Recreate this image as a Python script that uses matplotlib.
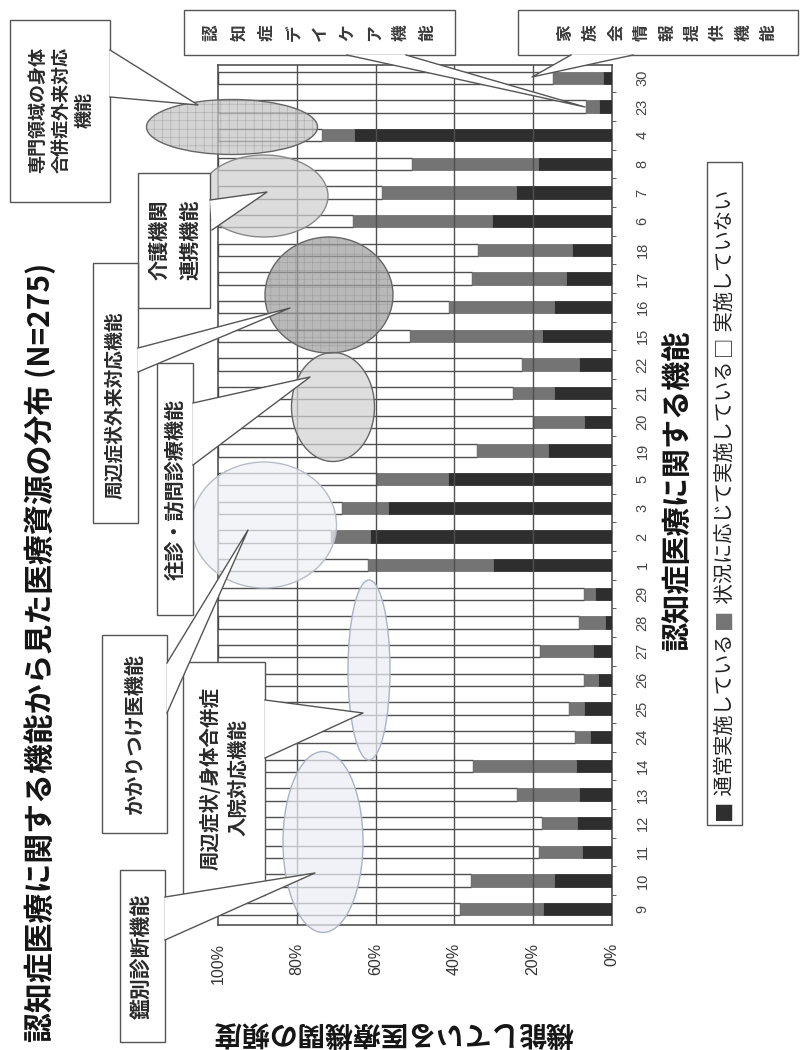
import matplotlib
matplotlib.use("Agg")
import matplotlib.pyplot as plt
from matplotlib.patches import Ellipse, Rectangle, Polygon

plt.rcParams['font.family'] = ['Noto Sans CJK JP', 'DejaVu Sans']

# ------------------------------------------------------------------
# data (bottom -> top in the picture)
# ------------------------------------------------------------------
categories = ['9', '10', '11', '12', '13', '14', '24', '25', '26', '27', '28', '29',
              '1', '2', '3', '5', '19', '20', '21', '22', '15', '16', '17', '18',
              '6', '7', '8', '4', '23', '30']
usual = [17.6, 14.7, 7.7, 8.8, 8.3, 9.1, 5.6, 7.1, 3.5, 4.9, 1.9, 4.3,
         30.1, 61.4, 56.8, 41.5, 16.2, 7.1, 14.6, 8.3, 17.7, 14.6, 11.8, 10.2,
         30.5, 24.4, 18.7, 65.5, 3.2, 2.2]
situational = [21.1, 21.2, 10.9, 8.9, 15.9, 26.1, 3.9, 3.8, 3.6, 13.4, 6.4, 2.8,
               31.9, 10.0, 11.8, 18.2, 18.1, 13.0, 10.4, 14.6, 33.5, 26.8, 23.7, 23.7,
               35.3, 34.0, 32.0, 8.0, 3.5, 12.7]
not_done = [100 - a - b for a, b in zip(usual, situational)]

pct_ticks = [0, 20, 40, 60, 80, 100]
pct_labels = ['0%', '20%', '40%', '60%', '80%', '100%']

title = '認知症医療に関する機能から見た医療資源の分布 (N=275)'
value_label = '機能している医療機関の頻度'
cat_label = '認知症医療に関する機能'
legend_items = ['通常実施している', '状況に応じて実施している', '実施していない']

c_dark = '#2e2e2e'
c_mid = '#747474'
c_line = '#505050'

W, H = 804, 1050
fig = plt.figure(figsize=(W / 100, H / 100), dpi=100)

# main axes (image pixel box: x 218..612, y 65..925)
ax = fig.add_axes([218 / W, 1 - 925 / H, (612 - 218) / W, (925 - 65) / H])
ypos = list(range(len(categories)))
bh = 0.43
ax.barh(ypos, usual, height=bh, color=c_dark, edgecolor=c_dark, lw=0.6, zorder=3)
ax.barh(ypos, situational, left=usual, height=bh, color=c_mid, edgecolor=c_mid, lw=0.6, zorder=3)
left3 = [a + b for a, b in zip(usual, situational)]
ax.barh(ypos, not_done, left=left3, height=bh, facecolor='white', edgecolor=c_line, lw=1.0, zorder=2)

ax.set_xlim(100, 0)
ax.set_ylim(-0.55, len(categories) - 0.55)
for v in [20, 40, 60, 80]:
    ax.axvline(v, color=c_line, lw=1.0, zorder=4)
for s in ax.spines.values():
    s.set_color('#444444')
    s.set_linewidth(1.1)

ax.set_xticks(pct_ticks)
ax.set_xticklabels(pct_labels, rotation=90, family='Liberation Sans', fontsize=11.5, color='#333333')
ax.tick_params(axis='x', length=0, pad=13)
ax.set_yticks(ypos)
ax.set_yticklabels(categories, rotation=90, family='Liberation Sans', fontsize=10.5,
                   color='#444444', va='center')
ax.set_yticks([p + 0.5 for p in ypos[:-1]], minor=True)
ax.tick_params(axis='y', which='major', length=0, left=False, labelleft=False,
               right=True, labelright=True, pad=17)
ax.tick_params(axis='y', which='minor', length=3, left=False, right=True, color='#444444')

# overlay in image pixel coordinates
ov = fig.add_axes([0, 0, 1, 1], zorder=5)
ov.set_xlim(0, W)
ov.set_ylim(H, 0)
ov.axis('off')
ov.patch.set_alpha(0)

# ellipses marking groups of functions
ellipses = [
    ((232, 127), 171, 55, '#c4c4c4', '#666666', '++'),
    ((264, 196), 128, 82, '#cfcfcf', '#888888', None),
    ((329, 295), 128, 116, '#9f9f9f', '#666666', '++'),
    ((333, 407), 83, 109, '#d2d2d2', '#666666', None),
    ((264, 525), 145, 126, '#eef0f4', '#b8bcc8', None),
    ((369, 670), 42, 180, '#ebeef4', '#aab2c8', None),
    ((323, 842), 80, 181, '#ebeef4', '#aab2c8', None),
]
plt.rcParams['hatch.linewidth'] = 0.4
for (cx, cy), w, h, fc, ec, hatch in ellipses:
    ov.add_patch(Ellipse((cx, cy), w, h, facecolor=fc, edgecolor='none', alpha=0.72, zorder=1))
    if hatch:
        ov.add_patch(Ellipse((cx, cy), w, h, facecolor='none', edgecolor='#8a8a8a',
                             hatch=hatch, lw=0, alpha=0.6, zorder=1))
    ov.add_patch(Ellipse((cx, cy), w, h, facecolor='none', edgecolor=ec, lw=1.0, zorder=1.5))


def callout(box, base, tip):
    x0, y0, x1, y1 = box
    ov.add_patch(Rectangle((x0, y0), x1 - x0, y1 - y0, facecolor='white',
                           edgecolor='#555555', lw=1.0, zorder=3))
    (bx1, by1), (bx2, by2) = base
    ov.add_patch(Polygon([(bx1, by1), tip, (bx2, by2)], closed=True, facecolor='white',
                         edgecolor='none', zorder=3.2))
    ov.plot([bx1, tip[0], bx2], [by1, tip[1], by2], color='#555555', lw=1.0, zorder=3.3)


def box_text(x, y, s, ls=1.3, size=14.5):
    ov.text(x, y, s, fontsize=size, color='#2a2a2a', weight='bold', zorder=4, ha='center',
            va='center', rotation=90, multialignment='center', linespacing=ls)


callout((10, 20, 110, 202), ((110, 50), (110, 97)), (198, 105))
box_text(61, 110, '専門領域の身体\n合併症外来対応\n機能', ls=1.3, size=13)

callout((138, 173, 210, 308), ((210, 200), (212, 230)), (267, 192))
box_text(174, 240, '介護機関\n連携機能', ls=1.6)

callout((93, 263, 138, 523), ((138, 348), (138, 372)), (290, 308))
box_text(115, 405, '周辺症状外来対応機能', size=13.5)

callout((157, 363, 193, 615), ((193, 403), (193, 465)), (310, 377))
box_text(175, 489, '往診・訪問診療機能')

callout((102, 635, 167, 833), ((167, 663), (167, 713)), (248, 530))
box_text(134, 734, 'かかりつけ医機能')

callout((183, 662, 265, 895), ((265, 700), (265, 758)), (363, 713))
box_text(224, 778, '周辺症状/身体合併症\n入院対応機能', ls=1.55, size=14)

callout((120, 870, 165, 1042), ((165, 897), (165, 940)), (315, 873))
box_text(142, 956, '鑑別診断機能', size=15)

# boxes whose text was written vertically in the original
callout((184, 10, 455, 55), ((347, 55), (406, 55)), (585, 107))
for i, ch in enumerate('認知症デイケア機能'):
    ov.text(212 + i * 27, 33, ch, fontsize=12, weight='bold', rotation=90, ha='center',
            va='center', color='#3a3a3a', zorder=4)
callout((518, 10, 798, 55), ((571, 55), (633, 55)), (532, 77))
for i, ch in enumerate('家族会情報提供機能'):
    ov.text(565 + i * 25.5, 33, ch, fontsize=12, weight='bold', rotation=90, ha='center',
            va='center', color='#3a3a3a', zorder=4)

# titles
ov.text(40, 652, title, rotation=90, fontsize=21.5, weight='bold', ha='center', va='center',
        color='#151515')
ov.text(393, 1033, value_label, rotation=180, fontsize=20, weight='bold', ha='center',
        va='center', color='#151515')
ov.text(677, 491, cat_label, rotation=90, fontsize=21, weight='bold', ha='center',
        va='center', color='#151515')

# legend, laid out bottom to top
ov.add_patch(Rectangle((707, 162), 35, 663, facecolor='white', edgecolor='#555555', lw=1.0))
renderer = fig.canvas.get_renderer()
pieces = [('■', c_dark), (' ' + legend_items[0] + ' ', '#222222'), ('■', c_mid),
          (' ' + legend_items[1] + ' ', '#222222'), ('□', '#222222'),
          (' ' + legend_items[2], '#222222')]
y = 820
for s, col in pieces:
    t = ov.text(725, y, s, rotation=90, fontsize=14.6, ha='center', va='bottom', color=col)
    y -= t.get_window_extent(renderer).height

fig.savefig('out.png', dpi=100)
